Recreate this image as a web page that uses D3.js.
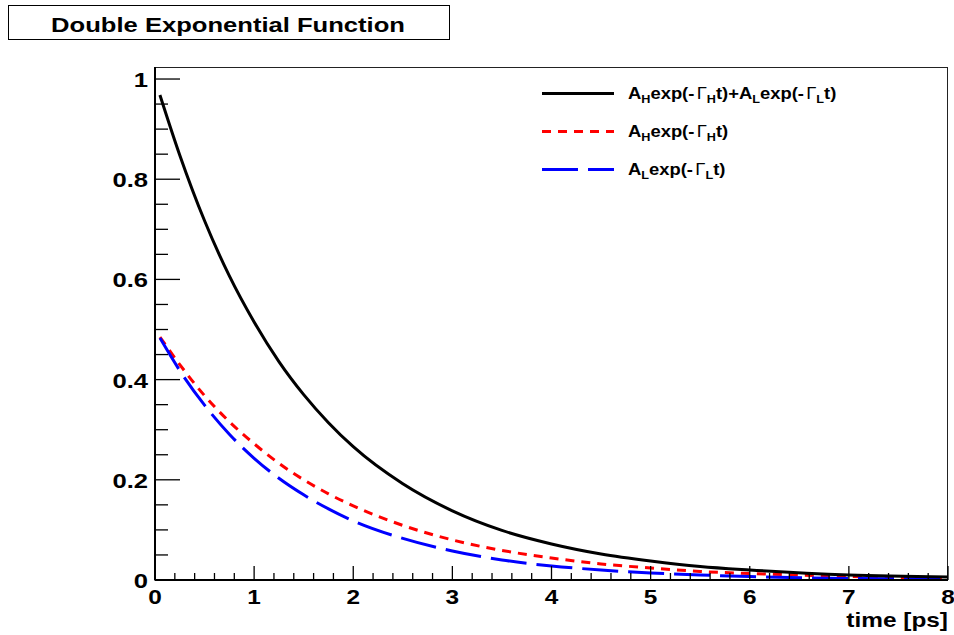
<!DOCTYPE html>
<html>
<head>
<meta charset="utf-8">
<script src="https://cdn.jsdelivr.net/npm/d3@7"></script>
<style>
  body { margin: 0; background: #fff; }
  svg { display: block; font-family: "Liberation Sans", Arial, sans-serif; }
</style>
</head>
<body>
<svg id="vis" width="954" height="635"></svg>
<script>
// values
var times = [0.05, 0.25, 0.5, 0.75, 1, 1.25, 1.5, 1.75, 2, 2.5, 3, 3.5, 4, 4.5, 5, 5.5, 6, 7, 8];
var sumValues = [0.968, 0.848, 0.717, 0.607, 0.515, 0.436, 0.370, 0.314, 0.266, 0.192, 0.138, 0.099, 0.072, 0.052, 0.038, 0.027, 0.020, 0.010, 0.006];
var heavyValues = [0.485, 0.430, 0.368, 0.316, 0.272, 0.233, 0.200, 0.172, 0.148, 0.109, 0.080, 0.059, 0.044, 0.032, 0.024, 0.017, 0.013, 0.007, 0.004];
var lightValues = [0.483, 0.418, 0.349, 0.291, 0.243, 0.203, 0.170, 0.142, 0.118, 0.083, 0.058, 0.040, 0.028, 0.020, 0.014, 0.010, 0.007, 0.003, 0.002];

var xTicks = [0, 1, 2, 3, 4, 5, 6, 7, 8];
var yTicks = [0, 0.2, 0.4, 0.6, 0.8, 1];
var yTickLabels = ["0", "0.2", "0.4", "0.6", "0.8", "1"];

var titleText = "Double Exponential Function";
var xTitle = "time [ps]";

// legend rows: pieces of [text, subscript?, symbol?]
var legendRows = [
  {color: "black", dash: null, parts: [["A"], ["H", 1], ["exp(-"], ["\u0393", 0, 1], ["H", 1], ["t)+A"], ["L", 1], ["exp(-"], ["\u0393", 0, 1], ["L", 1], ["t)"]]},
  {color: "red", dash: "9,7", parts: [["A"], ["H", 1], ["exp(-"], ["\u0393", 0, 1], ["H", 1], ["t)"]]},
  {color: "blue", dash: "36,10", parts: [["A"], ["L", 1], ["exp(-"], ["\u0393", 0, 1], ["L", 1], ["t)"]]}
];

var svg = d3.select('#vis');
var frame = {left: 155, right: 948, top: 67, bottom: 580};

var xScale = d3.scaleLinear().domain([0, 8]).range([frame.left, frame.right]);
var yScale = d3.scaleLinear().domain([0, 1.024]).range([frame.bottom, frame.top]);

// stretch text horizontally: the reference fonts are wider than ours
var stretchX = 1.22;

// title box
svg.append("rect")
    .attr("x", 8.5).attr("y", 5.5)
    .attr("width", 441).attr("height", 34)
    .style("fill", "white").style("stroke", "black").style("stroke-width", 1);

var title = svg.append("text")
    .attr("text-anchor", "middle")
    .style("font-size", "20px").style("font-weight", "bold")
    .text(titleText);
// fit title to the width it has in the reference
var titleScale = 354 / title.node().getComputedTextLength();
title.attr("transform", "translate(228,32) scale(" + titleScale + ",1)");

// frame
svg.append("rect")
    .attr("x", frame.left).attr("y", frame.top + 0.5)
    .attr("width", frame.right - frame.left - 0.5).attr("height", frame.bottom - frame.top)
    .style("fill", "none").style("stroke", "#222").style("stroke-width", 1);

// curves
var line = d3.line()
    .x(function(d){ return xScale(d[0]); })
    .y(function(d){ return yScale(d[1]); })
    .curve(d3.curveMonotoneX);

function series(vals){ return times.map(function(t, i){ return [t, vals[i]]; }); }

svg.append("path").datum(series(heavyValues))
    .attr("d", line)
    .style("fill", "none").style("stroke", "red").style("stroke-width", 3)
    .style("stroke-dasharray", "9,7");

svg.append("path").datum(series(lightValues))
    .attr("d", line)
    .style("fill", "none").style("stroke", "blue").style("stroke-width", 3)
    .style("stroke-dasharray", "36,10");

svg.append("path").datum(series(sumValues))
    .attr("d", line)
    .style("fill", "none").style("stroke", "black").style("stroke-width", 3);

// axes (ROOT style: ticks inside)
var xMinor = d3.range(0, 8.001, 0.2);
var yMinor = d3.range(0, 1.0001, 0.05);

var xAxisG = svg.append("g");
xAxisG.selectAll("line.minor").data(xMinor).enter().append("line")
    .attr("x1", function(d){ return xScale(d); }).attr("x2", function(d){ return xScale(d); })
    .attr("y1", frame.bottom).attr("y2", function(d){
        return Math.abs(d - Math.round(d)) < 1e-6 ? frame.bottom - 14 : frame.bottom - 7; })
    .style("stroke", "black").style("stroke-width", 1.3);
xAxisG.append("line")
    .attr("x1", frame.left).attr("x2", frame.right)
    .attr("y1", frame.bottom).attr("y2", frame.bottom)
    .style("stroke", "black").style("stroke-width", 2);
xAxisG.selectAll("text").data(xTicks).enter().append("text")
    .attr("transform", function(d){ return "translate(" + xScale(d) + ",604) scale(" + stretchX + ",1)"; })
    .attr("text-anchor", "middle")
    .style("font-size", "20px").style("font-weight", "bold")
    .text(function(d){ return d; });

var yAxisG = svg.append("g");
yAxisG.selectAll("line.minor").data(yMinor).enter().append("line")
    .attr("y1", function(d){ return yScale(d); }).attr("y2", function(d){ return yScale(d); })
    .attr("x1", frame.left).attr("x2", function(d){
        return Math.abs(d * 5 - Math.round(d * 5)) < 1e-6 ? frame.left + 25 : frame.left + 13; })
    .style("stroke", "black").style("stroke-width", 1.3);
yAxisG.append("line")
    .attr("x1", frame.left).attr("x2", frame.left)
    .attr("y1", frame.top).attr("y2", frame.bottom)
    .style("stroke", "black").style("stroke-width", 2);
yAxisG.selectAll("text").data(yTicks).enter().append("text")
    .attr("transform", function(d){ return "translate(148," + (yScale(d) + 8) + ") scale(" + stretchX + ",1)"; })
    .attr("text-anchor", "end")
    .style("font-size", "21px").style("font-weight", "bold")
    .text(function(d, i){ return yTickLabels[i]; });

svg.append("text")
    .attr("transform", "translate(948,627) scale(" + stretchX + ",1)")
    .attr("text-anchor", "end")
    .style("font-size", "20px").style("font-weight", "bold")
    .text(xTitle);

// legend
var legendY = [93.5, 131.5, 169.5];
legendRows.forEach(function(row, i){
    var g = svg.append("g");
    g.append("line")
        .attr("x1", 542).attr("x2", 614)
        .attr("y1", legendY[i]).attr("y2", legendY[i])
        .style("stroke", row.color).style("stroke-width", 3)
        .style("stroke-dasharray", row.dash);
    var t = g.append("text")
        .attr("transform", "translate(628," + (legendY[i] + 5) + ") scale(1.15,1)")
        .style("font-size", "16px").style("font-weight", "bold");
    row.parts.forEach(function(p, j){
        var prevSub = j > 0 && row.parts[j - 1][1];
        var ts = t.append("tspan").text(p[0]);
        if (p[1]) ts.attr("dy", 4).style("font-size", "11px");
        else if (prevSub) ts.attr("dy", -4);
        if (p[2]) ts.style("font-weight", "normal").attr("dx", 2);
    });
});
</script>
</body>
</html>
